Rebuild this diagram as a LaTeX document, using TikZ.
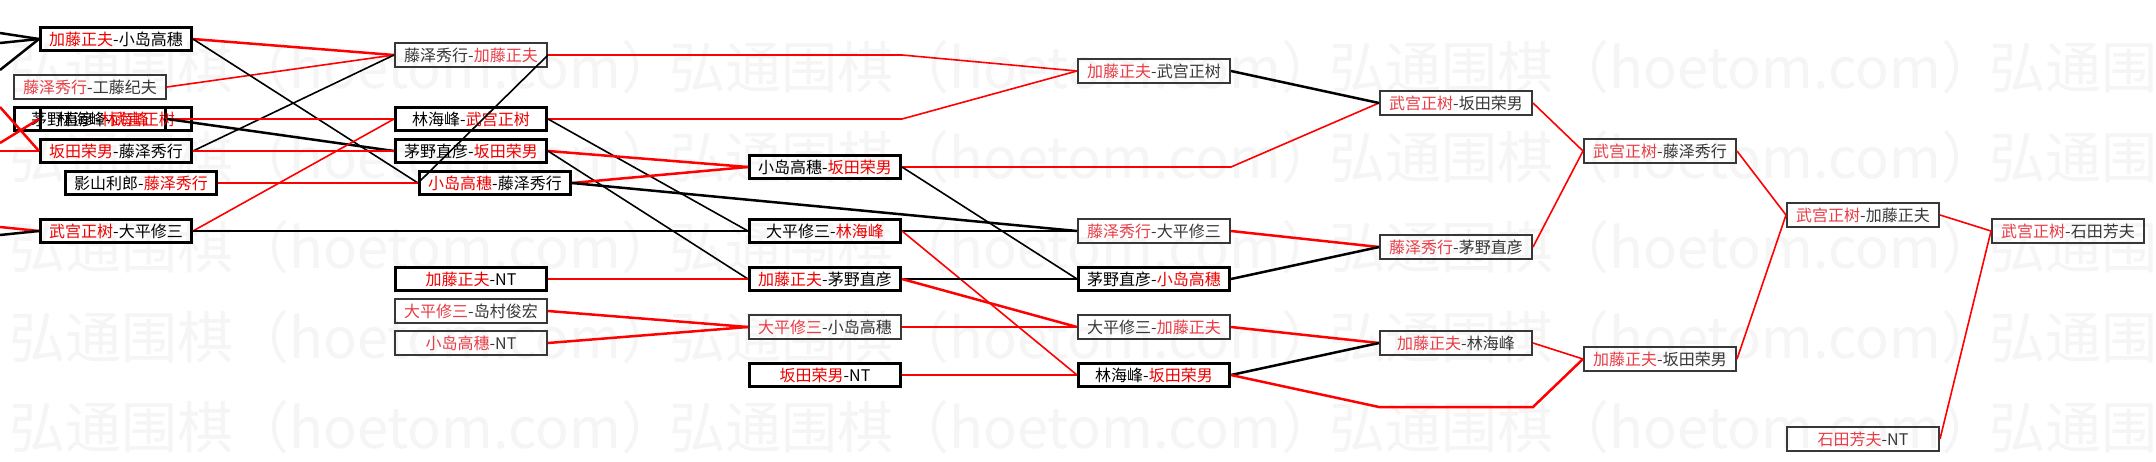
\documentclass[tikz,border=0pt]{standalone}
\usepackage{fontspec}
\newfontfamily\cjk{Noto Sans CJK SC}
\usetikzlibrary{calc}
\definecolor{wmgray}{RGB}{245,245,245}
\definecolor{winred}{RGB}{238,0,0}
\definecolor{winpink}{RGB}{232,60,70}
\definecolor{losegray}{RGB}{55,55,55}
\newcommand{\winner}[1]{\textcolor{wincol}{#1}}

\begin{document}
\begin{tikzpicture}[x=1pt, y=-1pt,
  game/.style={draw=black, line width=3pt, minimum width=151pt,
               minimum height=23pt, inner sep=0pt,
               font=\cjk\fontsize{16}{16}\selectfont,
               execute at begin node={\colorlet{wincol}{winred}}},
  gamelt/.style={game, draw=losegray, line width=2pt, minimum width=152pt,
                 minimum height=24pt, text=losegray,
                 execute at begin node={\colorlet{wincol}{winpink}}},
  wmark/.style={anchor=west, inner sep=0pt, text=wmgray,
                font=\cjk\fontsize{56}{56}\selectfont},
  rl/.style={draw=red, line width=2.5pt},
  bl/.style={draw=black, line width=2.5pt},
  fine/.style={line width=1.6pt},
]
  \useasboundingbox (0,0) rectangle (2156,461);
  \clip (0,0) rectangle (2156,461);
  \fill[white] (0,0) rectangle (2156,461);

  % Watermark
  \foreach \y in {67,157,247,337,427}
    \foreach \x in {9,669,1329,1989}
      \node[wmark] (wm-\x-\y) at (\x,\y) {弘通围棋（hoetom.com）};

  % Column 1
  \node[game]   (c1a) at (116,39)  {\winner{加藤正夫}-小岛高穗};
  \node[gamelt] (c1b) at (90,87)   {\winner{藤泽秀行}-工藤纪夫};
  \node[game]   (c1c) at (90,119)  {茅野直彦-\winner{林海峰}};
  \node[game]   (c1d) at (116,119) {林海峰-\winner{武宫正树}};
  \node[game]   (c1e) at (116,151) {\winner{坂田荣男}-藤泽秀行};
  \node[game]   (c1f) at (141,183) {影山利郎-\winner{藤泽秀行}};
  \node[game]   (c1g) at (116,231) {\winner{武宫正树}-大平修三};

  % Column 2
  \node[gamelt] (c2a) at (471,55)  {藤泽秀行-\winner{加藤正夫}};
  \node[game]   (c2b) at (471,119) {林海峰-\winner{武宫正树}};
  \node[game]   (c2c) at (471,151) {茅野直彦-\winner{坂田荣男}};
  \node[game]   (c2d) at (495,183) {\winner{小岛高穗}-藤泽秀行};
  \node[game]   (c2e) at (471,279) {\winner{加藤正夫}-NT};
  \node[gamelt] (c2f) at (471,311) {\winner{大平修三}-岛村俊宏};
  \node[gamelt] (c2g) at (471,343) {\winner{小岛高穗}-NT};

  % Column 3
  \node[game]   (c3a) at (825,167) {小岛高穗-\winner{坂田荣男}};
  \node[game]   (c3b) at (825,231) {大平修三-\winner{林海峰}};
  \node[game]   (c3c) at (825,279) {\winner{加藤正夫}-茅野直彦};
  \node[gamelt] (c3d) at (825,327) {\winner{大平修三}-小岛高穗};
  \node[game]   (c3e) at (825,375) {\winner{坂田荣男}-NT};

  % Column 4
  \node[gamelt] (c4a) at (1154,71)  {\winner{加藤正夫}-武宫正树};
  \node[gamelt] (c4b) at (1154,231) {\winner{藤泽秀行}-大平修三};
  \node[game]   (c4c) at (1154,279) {茅野直彦-\winner{小岛高穗}};
  \node[gamelt] (c4d) at (1154,327) {大平修三-\winner{加藤正夫}};
  \node[game]   (c4e) at (1154,375) {林海峰-\winner{坂田荣男}};

  % Columns 5 to 8
  \node[gamelt] (c5a) at (1456,103) {\winner{武宫正树}-坂田荣男};
  \node[gamelt] (c5b) at (1456,247) {\winner{藤泽秀行}-茅野直彦};
  \node[gamelt] (c5c) at (1456,343) {\winner{加藤正夫}-林海峰};
  \node[gamelt] (c6a) at (1660,151) {\winner{武宫正树}-藤泽秀行};
  \node[gamelt] (c6b) at (1660,359) {\winner{加藤正夫}-坂田荣男};
  \node[gamelt] (c7a) at (1863,215) {\winner{武宫正树}-加藤正夫};
  \node[gamelt] (c7b) at (1863,439) {\winner{石田芳夫}-NT};
  \node[gamelt] (c8a) at (2068,231) {\winner{武宫正树}-石田芳夫};

  % Lines coming in from the left edge
  \coordinate (e1) at (0,33);
  \coordinate (e2) at (0,43);
  \coordinate (e3) at (0,70);
  \coordinate (e4) at (0,107);
  \coordinate (e5) at (0,143);
  \coordinate (e6) at (0,151);
  \coordinate (e7) at (0,227);
  \coordinate (e8) at (0,235);
  \draw[bl] (e1) -- (c1a.west);
  \draw[bl] (e2) -- (c1a.west);
  \draw[bl] (e3) -- (c1a.west);
  \draw[rl] (e4) -- (c1e.west);
  \draw[rl] (e5) -- (c1d.west);
  \draw[rl] (e6) -- (c1e.west);
  \draw[rl] (e7) -- (c1g.west);
  \draw[bl] (e8) -- (c1g.west);

  % Column 1 to column 2
  \draw[rl] (c1a.east) -- (c2a.west);
  \draw[rl, fine] (c1b.east) -- (c2a.west);
  \draw[bl, fine] (c1e.east) -- (c2a.west);
  \draw[bl, fine] (c1a.east) -- (c2d.west);
  \draw[rl] (c1c.east) -- (c2b.west);
  \draw[bl] (c1c.east) -- (c2c.west);
  \draw[rl, fine] (c1g.east) -- (c2b.west);
  \draw[rl] (c1e.east) -- (c2c.west);
  \draw[rl] (c1f.east) -- (c2d.west);
  \draw[bl] (c1g.east) -- (c3b.west);

  % Column 2 onwards
  \draw[bl, fine] (c2a.east) -- (c2d.west);
  \draw[rl, fine] (c2a.east) -- (c2a.east -| c3a.east) -- (c4a.west);
  \draw[rl, fine] (c2b.east) -- (c2b.east -| c3a.east) -- (c4a.west);
  \draw[bl, fine] (c2b.east) -- (c3b.west);
  \draw[rl] (c2c.east) -- (c3a.west);
  \draw[bl, fine] (c2c.east) -- (c3c.west);
  \draw[rl] (c2d.east) -- (c3a.west);
  \draw[bl] (c2d.east) -- (c4b.west);
  \draw[rl] (c2e.east) -- (c3c.west);
  \draw[rl] (c2f.east) -- (c3d.west);
  \draw[rl] (c2g.east) -- (c3d.west);

  % Column 3 to column 4
  \draw[rl, fine] (c3a.east) -- (c3a.east -| c4a.east) -- (c5a.west);
  \draw[bl, fine] (c3a.east) -- (c4c.west);
  \draw[bl] (c3b.east) -- (c4b.west);
  \draw[rl, fine] (c3b.east) -- (c4e.west);
  \draw[bl] (c3c.east) -- (c4c.west);
  \draw[rl] (c3c.east) -- (c4d.west);
  \draw[rl] (c3d.east) -- (c4d.west);
  \draw[rl] (c3e.east) -- (c4e.west);

  % Column 4 to column 5
  \coordinate (p1) at (1379,407);
  \coordinate (p2) at (1533,407);
  \draw[bl] (c4a.east) -- (c5a.west);
  \draw[rl] (c4b.east) -- (c5b.west);
  \draw[bl] (c4c.east) -- (c5b.west);
  \draw[rl] (c4d.east) -- (c5c.west);
  \draw[bl] (c4e.east) -- (c5c.west);
  \draw[rl] (c4e.east) -- (p1) -- (p2) -- (c6b.west);

  % Finals
  \draw[rl, fine] (c5a.east) -- (c6a.west);
  \draw[rl, fine] (c5b.east) -- (c6a.west);
  \draw[rl, fine] (c5c.east) -- (c6b.west);
  \draw[rl, fine] (c6a.east) -- (c7a.west);
  \draw[rl, fine] (c6b.east) -- (c7a.west);
  \draw[rl, fine] (c7a.east) -- (c8a.west);
  \draw[rl, fine] (c7b.east) -- (c8a.west);
\end{tikzpicture}
\end{document}
